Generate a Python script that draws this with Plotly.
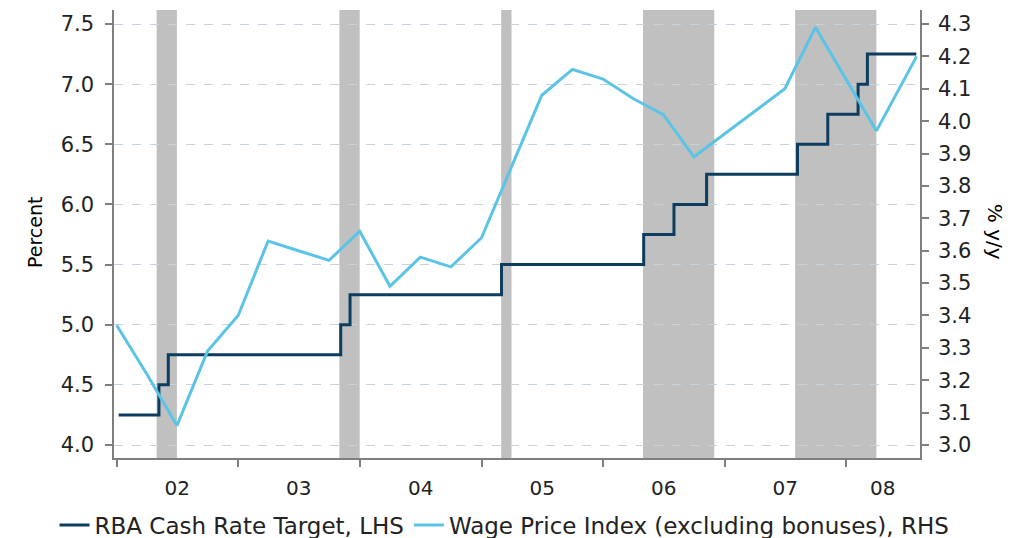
import plotly.graph_objects as go

# --- Data ---------------------------------------------------------------
rate_dates = ["2002-01-07", "2002-05-08", "2002-06-05", "2003-11-05", "2003-12-03",
              "2005-03-02", "2006-05-03", "2006-08-02", "2006-11-08", "2007-08-08",
              "2007-11-07", "2008-02-06", "2008-03-05", "2008-07-30"]
rate_values = [4.25, 4.50, 4.75, 5.00, 5.25, 5.50, 5.75, 6.00, 6.25, 6.50,
               6.75, 7.00, 7.25, 7.25]

wpi_dates = ["2002-01-01", "2002-04-01", "2002-07-01", "2002-10-01",
             "2003-01-01", "2003-04-01", "2003-07-01", "2003-10-01",
             "2004-01-01", "2004-04-01", "2004-07-01", "2004-10-01",
             "2005-01-01", "2005-04-01", "2005-07-01", "2005-10-01",
             "2006-01-01", "2006-04-01", "2006-07-01", "2006-10-01",
             "2007-01-01", "2007-04-01", "2007-07-01", "2007-10-01",
             "2008-01-01", "2008-04-01", "2008-07-31"]
wpi_values = [3.37, 3.22, 3.06, 3.29,
              3.40, 3.63, 3.60, 3.57,
              3.66, 3.49, 3.58, 3.55,
              3.64, 3.86, 4.08, 4.16,
              4.13, 4.07, 4.02, 3.89,
              3.96, 4.03, 4.10, 4.29,
              4.13, 3.97, 4.20]

shade_starts = ["2002-05-01", "2003-11-01", "2005-03-01", "2006-05-01", "2007-08-01"]
shade_ends = ["2002-07-01", "2004-01-01", "2005-04-01", "2006-12-01", "2008-04-01"]

year_label_dates = ["2002-07-02", "2003-07-02", "2004-07-02", "2005-07-02",
                    "2006-07-02", "2007-07-02", "2008-04-20"]
year_labels = ["02", "03", "04", "05", "06", "07", "08"]

left_ticks = [4.0, 4.5, 5.0, 5.5, 6.0, 6.5, 7.0, 7.5]

series_names = ["RBA Cash Rate Target, LHS", "Wage Price Index (excluding bonuses), RHS"]

# --- Figure -------------------------------------------------------------
NAVY = "#0c3d5e"
LIGHT = "#5bc4e6"
GRID = "#c6d3dc"
AXIS = "#7f7f7f"
TXT = "#222222"
FONT = "DejaVu Sans"

fig = go.Figure()
fig.add_trace(go.Scatter(x=rate_dates, y=rate_values, name=series_names[0],
                         mode="lines", line=dict(color=NAVY, width=3, shape="hv"),
                         yaxis="y"))
fig.add_trace(go.Scatter(x=wpi_dates, y=wpi_values, name=series_names[1],
                         mode="lines", line=dict(color=LIGHT, width=3),
                         yaxis="y2"))

for s, e in zip(shade_starts, shade_ends):
    fig.add_shape(type="rect", xref="x", yref="paper", x0=s, x1=e, y0=0, y1=1,
                  fillcolor="#c0c0c0", line=dict(width=0), layer="between")

# page body has an 8px default margin -> figure is 8px smaller than the window
fig.update_layout(
    width=1027, height=530,
    margin=dict(l=106, r=115, t=2, b=80, autoexpand=False),
    paper_bgcolor="white", plot_bgcolor="white",
    font=dict(family=FONT, size=19, color=TXT),
    showlegend=True,
    legend=dict(orientation="h", x=-0.0738, xanchor="left",
                y=-0.1496, yanchor="middle",
                font=dict(family=FONT, size=23, color=TXT), itemwidth=30,
                traceorder="normal", bgcolor="rgba(0,0,0,0)"),
    xaxis=dict(type="date", range=["2001-12-24", "2008-08-10"],
               tickmode="array", tickvals=year_label_dates, ticktext=year_labels,
               ticks="", showline=True, linecolor=AXIS, linewidth=1.5,
               showgrid=False, zeroline=False, ticklabelstandoff=11,
               minor=dict(dtick="M12", tick0="2002-01-01", ticks="outside", ticklen=7,
                          tickcolor=AXIS, tickwidth=1.5, showgrid=False),
               tickfont=dict(family=FONT, size=20, color=TXT)),
    yaxis=dict(range=[3.892, 7.6164], tickvals=left_ticks,
               tickformat=".1f", ticks="outside", ticklen=7, tickcolor=AXIS, tickwidth=1.5,
               showline=True, linecolor=AXIS, linewidth=1.5,
               showgrid=True, gridcolor=GRID, griddash="dash", gridwidth=1,
               zeroline=False, ticklabelstandoff=7,
               tickfont=dict(family=FONT, size=21, color=TXT)),
    yaxis2=dict(range=[2.9599, 4.3432], overlaying="y", side="right",
                dtick=0.1, tick0=3.0, tickformat=".1f",
                ticks="outside", ticklen=7, tickcolor=AXIS, tickwidth=1.5,
                showline=True, linecolor=AXIS, linewidth=1.5,
                showgrid=False, zeroline=False, ticklabelstandoff=5,
                tickfont=dict(family=FONT, size=21, color=TXT)),
)

fig.add_annotation(text="Percent", xref="paper", yref="paper", x=-0.1141, y=0.5045,
                   showarrow=False, textangle=-90,
                   font=dict(family=FONT, size=19, color="#000000"))
fig.add_annotation(text="% y/y", xref="paper", yref="paper", x=1.1104, y=0.505,
                   showarrow=False, textangle=90,
                   font=dict(family=FONT, size=20, color="#000000"))

fig.write_html("out.html")
